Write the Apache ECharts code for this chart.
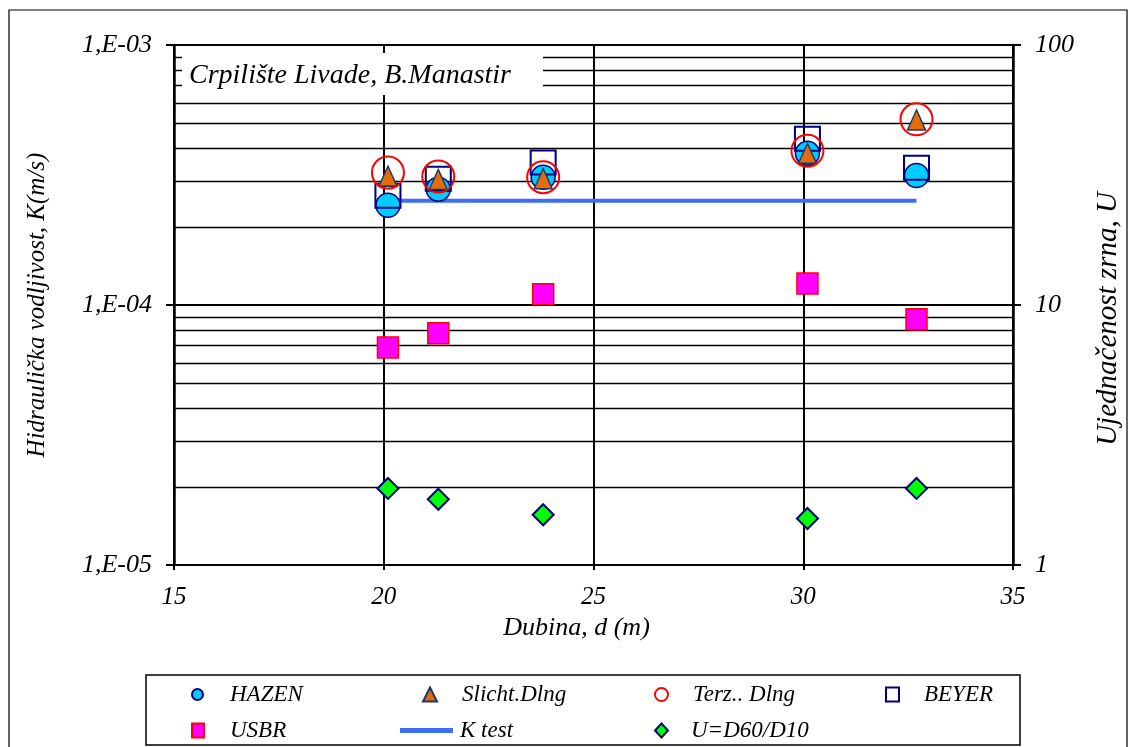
<!DOCTYPE html>
<html>
<head>
<meta charset="utf-8">
<script src="https://cdn.jsdelivr.net/npm/echarts@6/dist/echarts.min.js"></script>
<style>
html,body{margin:0;padding:0;background:#fff;}
#chart{width:1135px;height:747px;}
</style>
</head>
<body>
<div id="chart"></div>
<script>
// ---- data ----
const depth   = [20.1, 21.3, 23.8, 30.1, 32.7];
const hazen   = [2.42e-4, 2.79e-4, 3.10e-4, 3.83e-4, 3.15e-4];
const slicht  = [3.13e-4, 3.04e-4, 3.06e-4, 3.83e-4, 5.15e-4];
const terz    = [3.23e-4, 3.12e-4, 3.10e-4, 3.92e-4, 5.18e-4];
const beyer   = [2.63e-4, 3.06e-4, 3.53e-4, 4.36e-4, 3.37e-4];
const usbr    = [6.87e-5, 7.78e-5, 1.10e-4, 1.21e-4, 8.81e-5];
const uCoef   = [1.97, 1.79, 1.56, 1.51, 1.97];
const kTestDepth = [20.1, 32.7];
const kTestValue = [2.52e-4, 2.52e-4];
const yTickLabels = ['1,E-05', '1,E-04', '1,E-03'];
const y2TickLabels = ['1', '10', '100'];
const minorGridK = [2e-5,3e-5,4e-5,5e-5,6e-5,7e-5,8e-5,9e-5,2e-4,3e-4,4e-4,5e-4,6e-4,7e-4,8e-4,9e-4];
const titleText = 'Crpilište Livade, B.Manastir';
const rightAxisName = 'Ujednačenost zrna, U';

const FONT = 'Liberation Serif';
const pts = arr => depth.map((d, i) => [d, arr[i]]);

const chart = echarts.init(document.getElementById('chart'), null, {renderer: 'canvas'});

function legendAt(name, left, top, w, h, pad, icon) {
  const l = {
    data: [name], left: left, top: top, itemWidth: w, itemHeight: h,
    orient: 'horizontal', selectedMode: false, padding: 0,
    textStyle: {fontFamily: FONT, fontStyle: 'italic', fontSize: 23, color: '#000', padding: [0,0,0,pad]}
  };
  if (icon) l.icon = icon;
  return l;
}

const option = {
  animation: false,
  backgroundColor: '#fff',
  grid: {left: 174, right: 122, top: 45, bottom: 182, show: true, borderColor: '#000', borderWidth: 2, backgroundColor: 'transparent'},
  xAxis: {
    type: 'value', min: 15, max: 35, interval: 5,
    name: 'Dubina, d (m)', nameLocation: 'middle', nameGap: 48,
    nameTextStyle: {fontFamily: FONT, fontStyle: 'italic', fontSize: 26, color: '#000', padding: [0, 34, 0, 0]},
    axisLine: {lineStyle: {color: '#000', width: 2}},
    axisTick: {show: true, length: 5, lineStyle: {color: '#000', width: 2}},
    axisLabel: {fontFamily: FONT, fontStyle: 'italic', fontSize: 25, color: '#000', margin: 20},
    splitLine: {show: true, lineStyle: {color: '#000', width: 2}}
  },
  yAxis: [{
    type: 'log', logBase: 10, min: 1e-5, max: 1e-3, position: 'left',
    name: 'Hidraulička vodljivost, K(m/s)', nameLocation: 'middle', nameGap: 124, nameRotate: 90,
    nameTextStyle: {fontFamily: FONT, fontStyle: 'italic', fontSize: 25, color: '#000'},
    axisLine: {show: true, lineStyle: {color: '#000', width: 2.5}},
    axisTick: {show: true, length: 8, lineStyle: {color: '#000', width: 2}},
    axisLabel: {fontFamily: FONT, fontStyle: 'italic', fontSize: 26, color: '#000', margin: 22,
      formatter: v => yTickLabels[Math.round(Math.log10(v)) + 5]},
    splitLine: {show: true, lineStyle: {color: '#000', width: 2}}
  }, {
    type: 'log', logBase: 10, min: 1, max: 100, position: 'right',
    axisLine: {show: true, lineStyle: {color: '#000', width: 2.5}},
    axisTick: {show: true, length: 8, lineStyle: {color: '#000', width: 2}},
    axisLabel: {fontFamily: FONT, fontStyle: 'italic', fontSize: 26, color: '#000', margin: 22,
      formatter: v => y2TickLabels[Math.round(Math.log10(v))]},
    splitLine: {show: false}
  }],
  legend: [
    legendAt('HAZEN', 191, 683, 11, 14, 22),
    legendAt('Slicht.Dlng', 422, 683, 14, 14, 20),
    legendAt('Terz.. Dlng', 654, 683, 13, 14, 20),
    legendAt('BEYER', 885, 683, 13, 14, 20),
    legendAt('USBR', 191, 719, 12, 14, 21),
    legendAt('K test', 400, 719, 53, 5, 2, 'rect'),
    legendAt('U=D60/D10', 654, 719, 13, 14, 18)
  ],
  series: [
    {
      name: 'minor grid', type: 'custom', yAxisIndex: 0, z: 1, silent: true,
      data: minorGridK.map(v => [15, v]),
      renderItem: function (params, api) {
        const y = Math.round(api.coord([15, api.value(1)])[1]) + 0.5;
        const cs = params.coordSys;
        return {
          type: 'line', shape: {x1: cs.x, y1: y, x2: cs.x + cs.width, y2: y},
          style: {stroke: '#000', lineWidth: 1.3}
        };
      }
    },
    {
      name: 'K test', type: 'line', yAxisIndex: 0, z: 2,
      data: kTestDepth.map((d, i) => [d, kTestValue[i]]),
      symbol: 'none', showSymbol: false,
      lineStyle: {color: '#3D6EF5', width: 4}, itemStyle: {color: '#3D6EF5'}
    },
    {
      name: 'HAZEN', type: 'scatter', yAxisIndex: 0, z: 3, data: pts(hazen),
      symbol: 'circle', symbolSize: 24,
      itemStyle: {color: '#00CCFF', borderColor: '#000080', borderWidth: 1.5, opacity: 1}
    },
    {
      name: 'BEYER', type: 'scatter', yAxisIndex: 0, z: 3, data: pts(beyer),
      symbol: 'rect', symbolSize: [25, 24],
      itemStyle: {color: 'rgba(255,255,255,0)', borderColor: '#000080', borderWidth: 2, opacity: 1}
    },
    {
      name: 'Slicht.Dlng', type: 'scatter', yAxisIndex: 0, z: 3, data: pts(slicht),
      symbol: 'triangle', symbolSize: [18, 20],
      itemStyle: {color: '#E46C0A', borderColor: '#1F3864', borderWidth: 1.5, opacity: 1}
    },
    {
      name: 'Terz.. Dlng', type: 'scatter', yAxisIndex: 0, z: 3, data: pts(terz),
      symbol: 'circle', symbolSize: 32,
      itemStyle: {color: 'rgba(255,255,255,0)', borderColor: '#FF0000', borderWidth: 2, opacity: 1}
    },
    {
      name: 'USBR', type: 'scatter', yAxisIndex: 0, z: 3, data: pts(usbr),
      symbol: 'rect', symbolSize: 21,
      itemStyle: {color: '#FF00FF', borderColor: '#FF0000', borderWidth: 1.5, opacity: 1}
    },
    {
      name: 'U=D60/D10', type: 'scatter', yAxisIndex: 1, z: 3, data: pts(uCoef),
      symbol: 'diamond', symbolSize: 21,
      itemStyle: {color: '#00FF00', borderColor: '#000080', borderWidth: 2, opacity: 1}
    }
  ],
  graphic: [
    {type: 'rect', z: 100, shape: {x: 182, y: 53, width: 361, height: 42}, style: {fill: '#fff'}},
    {type: 'text', z: 101, x: 189, y: 76, style: {text: titleText, fontFamily: FONT, fontStyle: 'italic', fontSize: 28, fill: '#000', textVerticalAlign: 'middle'}},
    {type: 'text', z: 101, x: 1108, y: 319, rotation: Math.PI / 2,
      style: {text: rightAxisName, fontFamily: FONT, fontStyle: 'italic', fontSize: 29, fill: '#000', textAlign: 'center', textVerticalAlign: 'middle'}},
    {type: 'rect', z: 0, shape: {x: 146, y: 675, width: 874, height: 70}, style: {fill: 'none', stroke: '#000', lineWidth: 1.5}},
    {type: 'rect', z: 0, shape: {x: 9, y: 10, width: 1118, height: 745}, style: {fill: 'none', stroke: '#000', lineWidth: 1.2}}
  ]
};
chart.setOption(option);
</script>
</body>
</html>
